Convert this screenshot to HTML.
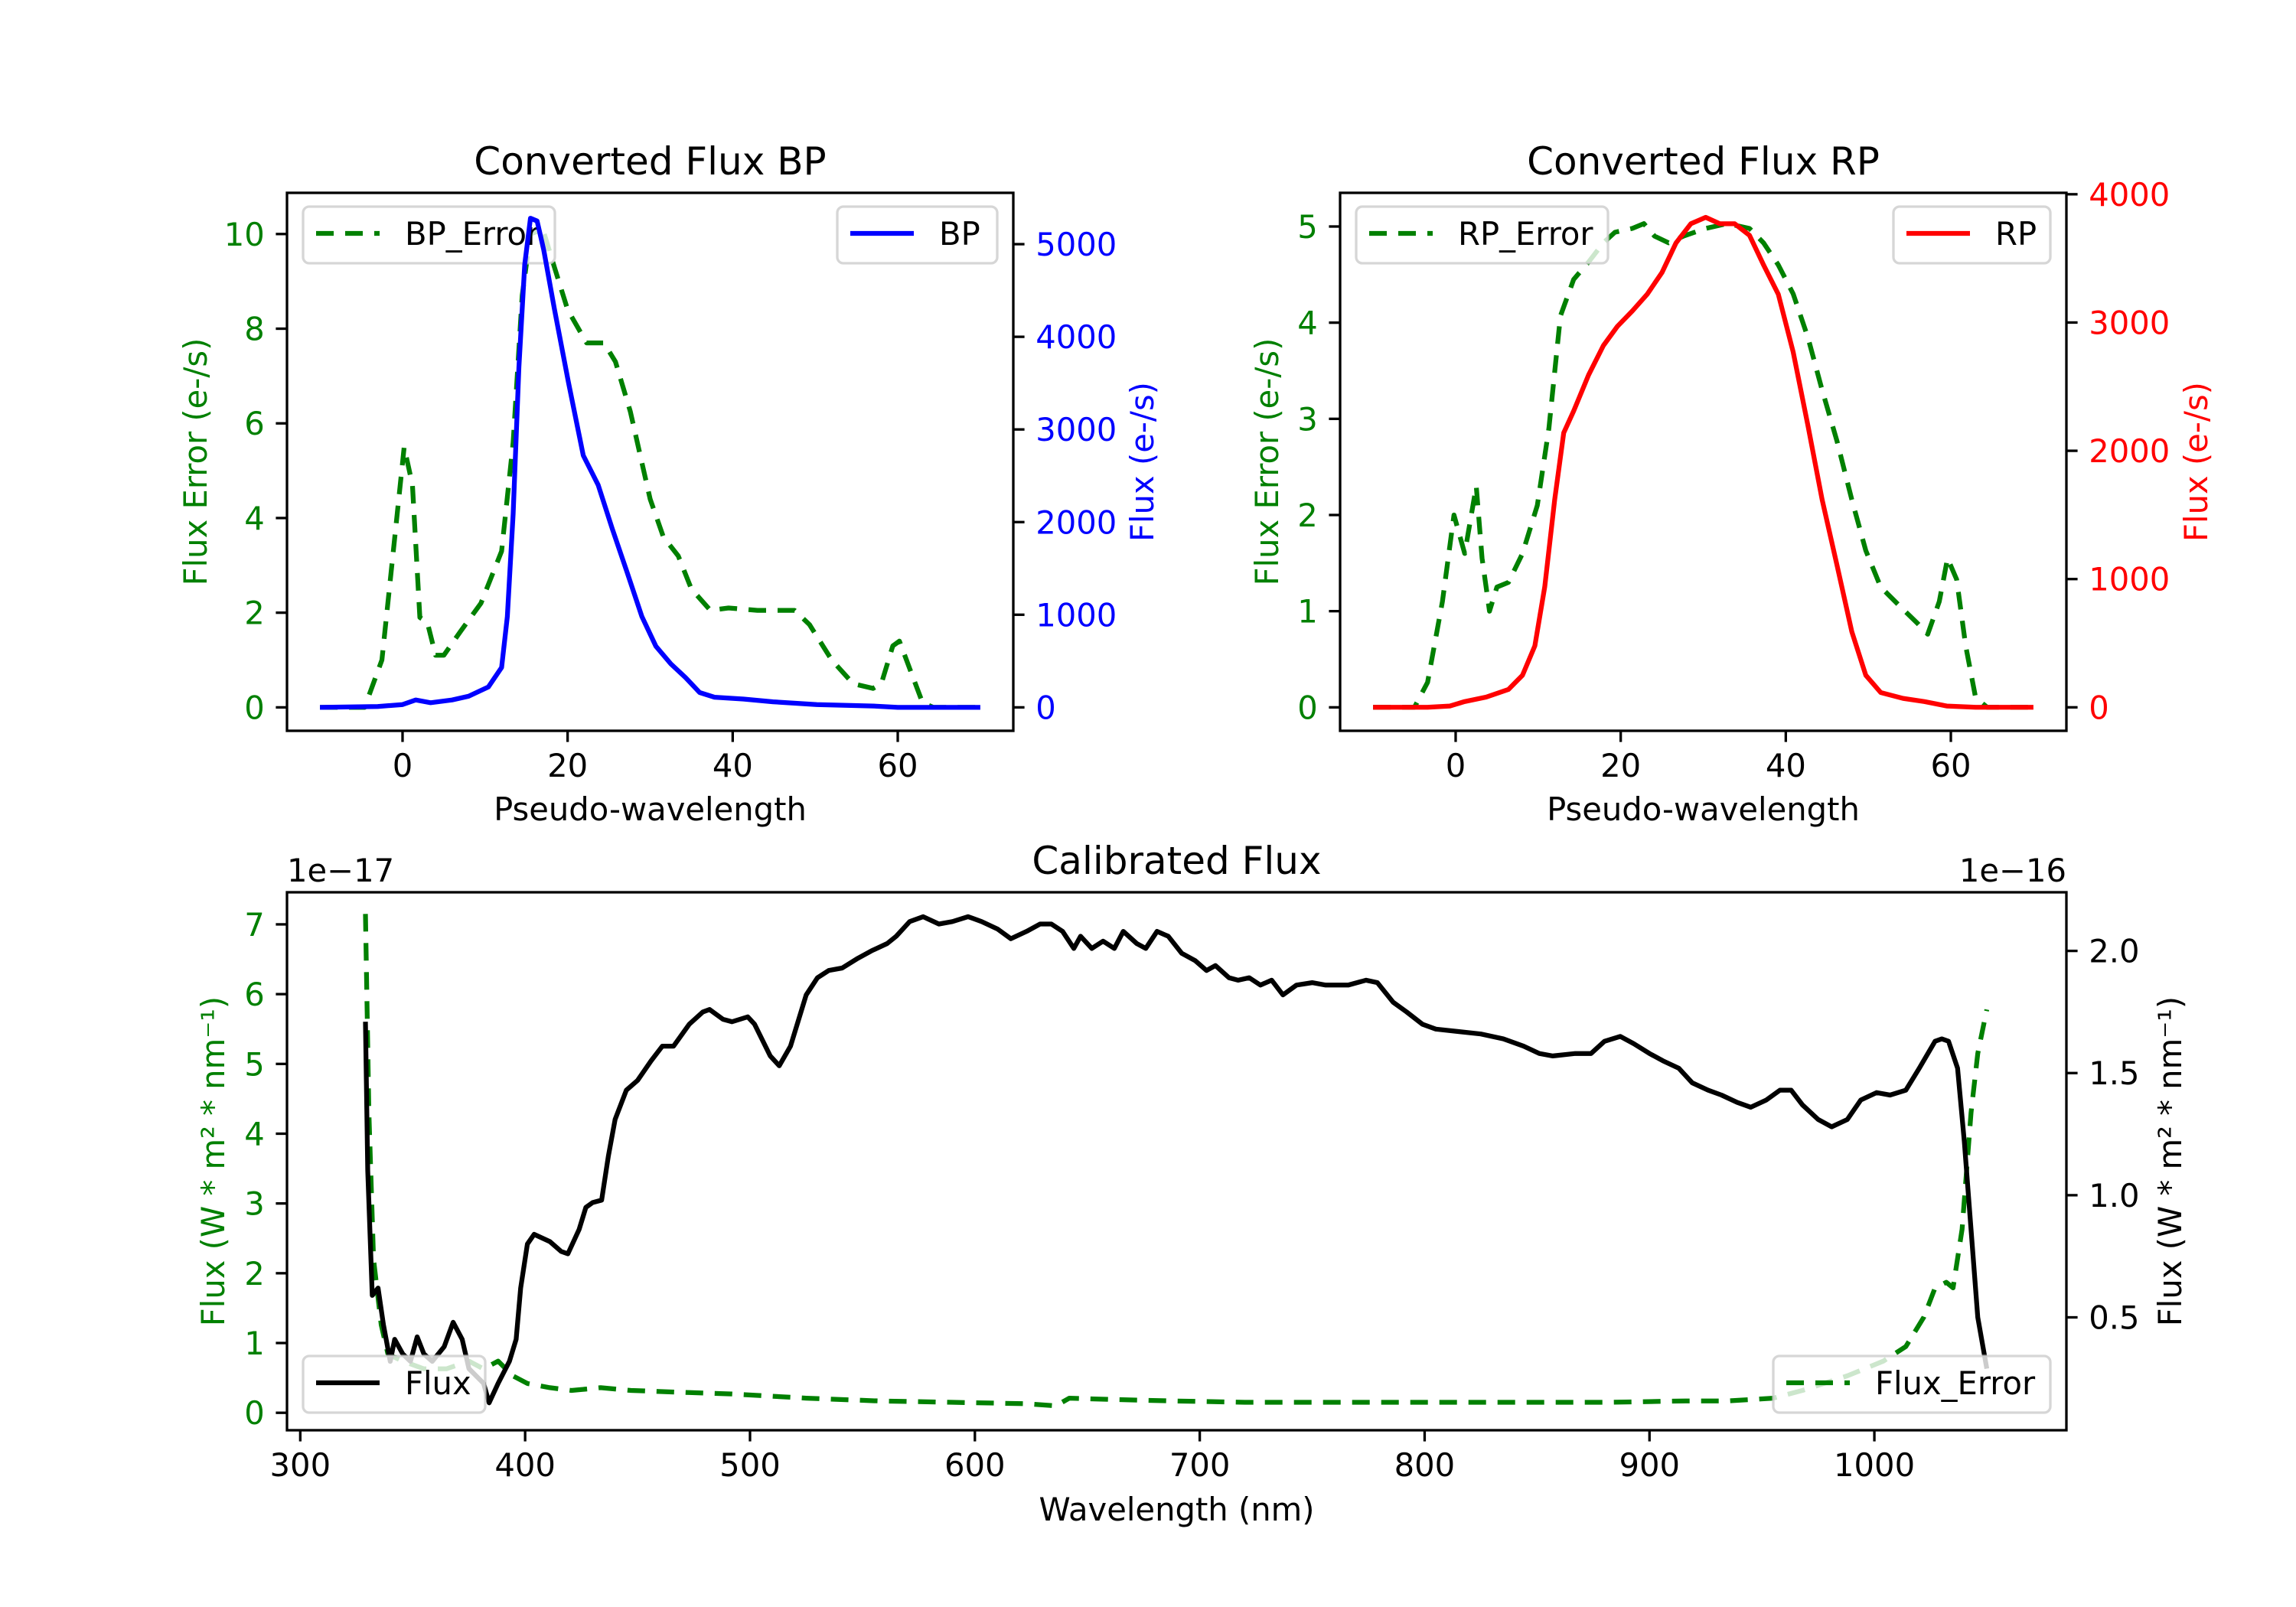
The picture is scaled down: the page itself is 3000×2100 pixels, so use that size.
<!DOCTYPE html>
<html><head><meta charset="utf-8"><style>
html,body{margin:0;padding:0;background:#fff;}
svg{display:block;font-family:"DejaVu Sans","Liberation Sans",sans-serif;}
</style></head><body>
<svg id="fig" width="3000" height="2100" viewBox="0 0 3000 2100" xmlns="http://www.w3.org/2000/svg">
<rect x="0" y="0" width="3000" height="2100" fill="#fff"/>
</svg>
<script>
// ---- BP data ----
const bpErrX=[-10,-4.6,-2.5,-1,0.2,1.2,2.1,3,4,5,7,9.5,12,13.4,14.5,15.5,17,18.4,20,22.3,24.4,25.8,27.6,30,31.6,33.4,35,37.3,39.5,43,47.5,49.3,52,54.6,57,58,59.4,60.2,61.7,63,64.3,70];
const bpErrY=[0,0,1,3.5,5.5,4.7,1.9,1.8,1.1,1.1,1.6,2.2,3.3,5.6,8.7,10,10.1,9.3,8.4,7.7,7.7,7.3,6.25,4.4,3.6,3.2,2.5,2.05,2.1,2.05,2.05,1.75,1,0.5,0.4,0.5,1.3,1.4,0.7,0.1,0,0];
const bpX=[-10,-3,0,1.6,3.4,6,8,10.4,12,12.7,13.4,14.1,14.8,15.5,16.3,17.1,18.4,20.1,21.9,23.7,25.4,27.2,29,30.7,32.5,34.3,36,37.8,41.3,44.9,50.2,57,60,70];
const bpY=[0,10,30,80,50,80,120,220,430,980,2090,3670,4780,5280,5250,4940,4300,3510,2720,2400,1930,1460,980,660,470,320,160,110,90,60,30,15,0,0];
// ---- RP data ----
const rpErrX=[-10,-5,-3.4,-1.6,-0.2,1.1,2.5,3.2,4.1,5,6.4,8.1,9.9,11.3,12.7,14.3,16.1,17.9,19.3,21.4,22.8,24.1,25.8,27.6,30.3,32.9,35.6,37.3,39.1,40.9,42.7,44.4,46.2,48,49.7,51.5,54.2,56,57.2,58.6,59.6,60.7,61.8,63,64.4,70];
const rpErrY=[0,0,0.26,1.1,2,1.6,2.3,1.55,1,1.25,1.3,1.6,2.1,2.9,4.07,4.45,4.63,4.83,4.94,4.98,5.03,4.9,4.83,4.9,4.98,5.03,4.98,4.83,4.6,4.3,3.84,3.3,2.77,2.16,1.63,1.25,1.02,0.87,0.76,1.1,1.55,1.33,0.64,0.1,0,0];
const rpX=[-10,-3.4,-0.7,1.1,3.7,6.4,8.1,9.6,10.8,12,13.1,14.3,16.1,17.9,19.6,21.4,23.2,25,26.7,28.5,30.3,32,33.8,35.6,37.3,39.1,40.9,42.7,44.4,46.2,48,49.7,51.5,54.2,56.8,59.5,63,70];
const rpY=[0,0,10,45,80,140,250,480,940,1620,2140,2310,2590,2820,2970,3090,3220,3390,3620,3770,3820,3770,3770,3680,3450,3220,2770,2190,1620,1110,590,250,115,70,45,10,0,0];
// ---- Calibrated data ----
const calX=[329,330,332,334.6,337,340,342,345.6,349,352,355,358.7,364,368,372,375,381.5,384,388,393,396,398,401,404,411,416,419,424,427,430,434,437,440,445,450,456,461,466,473,479,482,488,492,499,502,509,513,518,525,530,535,541,548,554,561,565,571,577,584,590,597,603,610,616,623,629,634,639,644,647,652,657,662,666,672,676,681,686,692,698,703,707,713,717,722,727,732,737,743,750,756,766,774,779,786,792,799,805,815,825,835,844,851,857,867,874,880,887,893,900,906,913,919,926,932,939,945,952,958,963,968,975,981,988,994,1001,1007,1014,1020,1027,1030,1033,1037,1040,1043,1046,1050];
const calFlux=[1.71,1.1,0.59,0.62,0.47,0.32,0.41,0.35,0.32,0.42,0.35,0.32,0.38,0.48,0.41,0.29,0.23,0.15,0.23,0.32,0.41,0.62,0.8,0.84,0.81,0.77,0.76,0.86,0.95,0.97,0.98,1.16,1.31,1.43,1.47,1.55,1.61,1.61,1.7,1.75,1.76,1.72,1.71,1.73,1.7,1.57,1.53,1.61,1.82,1.89,1.92,1.93,1.97,2.0,2.03,2.06,2.12,2.14,2.11,2.12,2.14,2.12,2.09,2.05,2.08,2.11,2.11,2.08,2.01,2.06,2.01,2.04,2.01,2.08,2.03,2.01,2.08,2.06,1.99,1.96,1.92,1.94,1.89,1.88,1.89,1.86,1.88,1.82,1.86,1.87,1.86,1.86,1.88,1.87,1.79,1.75,1.7,1.68,1.67,1.66,1.64,1.61,1.58,1.57,1.58,1.58,1.63,1.65,1.62,1.58,1.55,1.52,1.46,1.43,1.41,1.38,1.36,1.39,1.43,1.43,1.37,1.31,1.28,1.31,1.39,1.42,1.41,1.43,1.52,1.63,1.64,1.63,1.52,1.22,0.86,0.5,0.29];
const calErrX=[329,330.5,332.6,336,339,345.6,355,365,375,381.5,388,394.5,401,411,420.6,433.6,447,473,492,525,557,590,623,636,642,662,688,720,753,786,818,851,883,916,935,955,968,988,1004,1014,1022,1027,1032,1035,1039,1043,1046,1050];
const calErrY=[7.15,4.3,2.2,1.26,0.84,0.74,0.63,0.63,0.74,0.63,0.74,0.53,0.42,0.36,0.32,0.36,0.32,0.29,0.27,0.21,0.17,0.15,0.13,0.1,0.21,0.19,0.17,0.15,0.15,0.15,0.15,0.15,0.15,0.17,0.17,0.21,0.32,0.53,0.74,0.95,1.37,1.79,1.87,1.79,2.63,4.3,5.15,5.78];
// ---- ticks ----
const pwTicks=[0,20,40,60];
const bpErrTicks=[0,2,4,6,8,10];
const bpFluxTicks=[0,1000,2000,3000,4000,5000];
const rpErrTicks=[0,1,2,3,4,5];
const rpFluxTicks=[0,1000,2000,3000,4000];
const calXTicks=[300,400,500,600,700,800,900,1000];
const calErrTicks=[0,1,2,3,4,5,6,7];
const calFluxTicks=[0.5,1.0,1.5,2.0];
const calFluxTickLabels=["0.5","1.0","1.5","2.0"];

const NS="http://www.w3.org/2000/svg";
const svg=document.getElementById('fig');
const FS=41.7, TL=14.6, LW=6.25, SW=3.3;
function mk(tag,attrs,parent){const e=document.createElementNS(NS,tag);for(const k in attrs)e.setAttribute(k,attrs[k]);(parent||svg).appendChild(e);return e;}
function scale(d0,d1,p0,p1){return v=>p0+(v-d0)/(d1-d0)*(p1-p0);}

function text(str,x,y,anchor,color,size,name,rot){
  const t=mk('text',{x:x,y:y,'text-anchor':anchor,fill:color,'font-size':size});
  if(rot!==undefined)t.setAttribute('transform','rotate('+rot+' '+x+' '+y+')');
  t.textContent=str;
  
  
  return t;
}
function line(xs,ys,sx,sy,color,dashed,name){
  let d='';for(let i=0;i<xs.length;i++)d+=(i?'L':'M')+sx(xs[i]).toFixed(1)+' '+sy(ys[i]).toFixed(1);
  const p=mk('path',{d:d,fill:'none',stroke:color,'stroke-width':LW,'stroke-linejoin':'round'});
  if(dashed)p.setAttribute('stroke-dasharray','23 15');
  
  
}
function xticks(ticks,labels,sx,y,name){
  ticks.forEach((v,i)=>{
    const t=mk('line',{x1:sx(v),x2:sx(v),y1:y,y2:y+TL,stroke:'#000','stroke-width':SW});
    
    
    text(labels[i],sx(v),y+TL+14.6+31,'middle','#000',FS,name+'-label');
  });
}
function yticks(ticks,labels,sy,x,side,color,name){
  ticks.forEach((v,i)=>{
    const x2=side<0?x-TL:x+TL;
    const t=mk('line',{x1:x,x2:x2,y1:sy(v),y2:sy(v),stroke:'#000','stroke-width':SW});
    
    
    text(labels[i],side<0?x-TL-14.6:x+TL+14.6,sy(v)+15,side<0?'end':'start',color,FS,name+'-label');
  });
}
function frame(x0,y0,x1,y1,name){
  const r=mk('rect',{x:x0,y:y0,width:x1-x0,height:y1-y0,fill:'none',stroke:'#000','stroke-width':SW});
  
  
}
function legend(x,y,w,label,color,dashed,name){
  const g=mk('g',{});
  
  
  const r=mk('rect',{x:x,y:y,width:w,height:74,rx:8,fill:'rgba(255,255,255,0.8)',stroke:'rgba(204,204,204,0.8)','stroke-width':3.3},g);
  
  
  const l=mk('line',{x1:x+17,x2:x+100,y1:y+35,y2:y+35,stroke:color,'stroke-width':LW},g);
  if(dashed)l.setAttribute('stroke-dasharray','23 15');
  
  
  const t=mk('text',{x:x+133,y:y+50,fill:'#000','font-size':FS},g);
  t.textContent=label;
  
  
}

// ===== BP =====
(function(){
  const X0=375,X1=1324,Y0=252,Y1=955;
  const sx=scale(-14,74,X0,X1), sL=scale(-0.495,10.87,Y1,Y0), sR=scale(-253,5554,Y1,Y0);
  line(bpErrX,bpErrY,sx,sL,'green',true,'bp-error-line');
  legend(396,270,329,'BP_Error','green',true,'bp-error-legend');
  line(bpX,bpY,sx,sR,'blue',false,'bp-flux-line');
  legend(1303-209,270,209,'BP','blue',false,'bp-legend');
  frame(X0,Y0,X1,Y1,'bp-axes-frame');
  xticks(pwTicks,pwTicks.map(String),sx,Y1,'bp-x-tick');
  yticks(bpErrTicks,bpErrTicks.map(String),sL,X0,-1,'green','bp-error-y-tick');
  yticks(bpFluxTicks,bpFluxTicks.map(String),sR,X1,1,'blue','bp-flux-y-tick');
  text('Converted Flux BP',(X0+X1)/2,Y0-24,'middle','#000',50,'bp-title');
  text('Pseudo-wavelength',(X0+X1)/2,1072,'middle','#000',FS,'bp-x-axis-title');
  text('Flux Error (e-/s)',270,(Y0+Y1)/2,'middle','green',FS,'bp-left-y-axis-title',-90);
  text('Flux (e-/s)',1507,(Y0+Y1)/2,'middle','blue',FS,'bp-right-y-axis-title',-90);
})();
// ===== RP =====
(function(){
  const X0=1751,X1=2700,Y0=252,Y1=955;
  const sx=scale(-14,74,X0,X1), sL=scale(-0.244,5.35,Y1,Y0), sR=scale(-183,4011,Y1,Y0);
  line(rpErrX,rpErrY,sx,sL,'green',true,'rp-error-line');
  legend(1772,270,329,'RP_Error','green',true,'rp-error-legend');
  line(rpX,rpY,sx,sR,'red',false,'rp-flux-line');
  legend(2679-205,270,205,'RP','red',false,'rp-legend');
  frame(X0,Y0,X1,Y1,'rp-axes-frame');
  xticks(pwTicks,pwTicks.map(String),sx,Y1,'rp-x-tick');
  yticks(rpErrTicks,rpErrTicks.map(String),sL,X0,-1,'green','rp-error-y-tick');
  yticks(rpFluxTicks,rpFluxTicks.map(String),sR,X1,1,'red','rp-flux-y-tick');
  text('Converted Flux RP',(X0+X1)/2,Y0-24,'middle','#000',50,'rp-title');
  text('Pseudo-wavelength',(X0+X1)/2,1072,'middle','#000',FS,'rp-x-axis-title');
  text('Flux Error (e-/s)',1670,(Y0+Y1)/2,'middle','green',FS,'rp-left-y-axis-title',-90);
  text('Flux (e-/s)',2884,(Y0+Y1)/2,'middle','red',FS,'rp-right-y-axis-title',-90);
})();
// ===== Calibrated =====
(function(){
  const X0=375,X1=2700,Y0=1166,Y1=1869;
  const sx=scale(294.1,1085.4,X0,X1), sL=scale(-0.25,7.46,Y1,Y0), sR=scale(0.038,2.24,Y1,Y0);
  line(calErrX,calErrY,sx,sL,'green',true,'flux-error-line');
  line(calX,calFlux,sx,sR,'#000',false,'flux-line');
  legend(396,1772,238,'Flux','#000',false,'flux-legend');
  legend(2679-362,1772,362,'Flux_Error','green',true,'flux-error-legend');
  frame(X0,Y0,X1,Y1,'calibrated-axes-frame');
  xticks(calXTicks,calXTicks.map(String),sx,Y1,'cal-x-tick');
  yticks(calErrTicks,calErrTicks.map(String),sL,X0,-1,'green','cal-left-y-tick');
  yticks(calFluxTicks,calFluxTickLabels,sR,X1,1,'#000','cal-right-y-tick');
  text('Calibrated Flux',(X0+X1)/2,1142,'middle','#000',50,'calibrated-title');
  text('1e\u221217',X0,1166-14,'start','#000',FS,'left-offset-text');
  text('1e\u221216',X1,1166-14,'end','#000',FS,'right-offset-text');
  text('Wavelength (nm)',(X0+X1)/2,1987,'middle','#000',FS,'cal-x-axis-title');
  text('Flux (W * m\u00b2 * nm\u207b\u00b9)',293,(Y0+Y1)/2,'middle','green',FS,'cal-left-y-axis-title',-90);
  text('Flux (W * m\u00b2 * nm\u207b\u00b9)',2850,(Y0+Y1)/2,'middle','#000',FS,'cal-right-y-axis-title',-90);
})();
</script>
</body></html>
